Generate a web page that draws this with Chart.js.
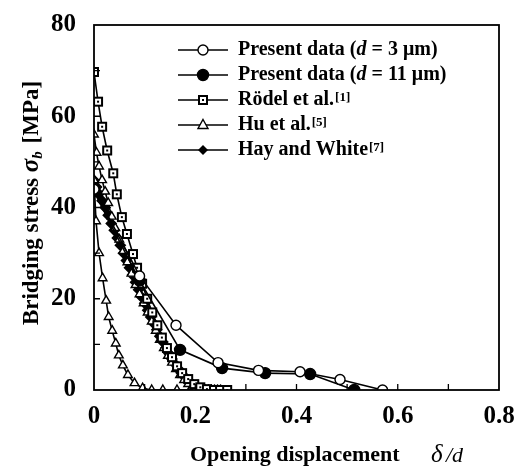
<!DOCTYPE html>
<html lang="en">
<head>
  <meta charset="UTF-8">
  <title>Bridging stress vs opening displacement</title>
  <style>
    body { margin: 0; padding: 0; background: #fff; }
    .wrap { width: 522px; height: 469px; }
  </style>
  <script src="https://cdn.jsdelivr.net/npm/chart.js"></script>
</head>
<body>
  <div class="wrap"><canvas id="c" width="522" height="469"></canvas></div>
  <script>
    // Present data, d = 3 um (open circles)
    const d3X = [0, 0.09, 0.162, 0.245, 0.325, 0.407, 0.486, 0.57];
    const d3Y = [44, 25, 14.2, 6, 4.3, 4, 2.3, 0];
    // Present data, d = 11 um (filled circles)
    const d11X = [0, 0.09, 0.17, 0.253, 0.338, 0.427, 0.514];
    const d11Y = [43.5, 24, 8.8, 4.8, 3.7, 3.5, 0];
    // Rodel et al. (squares)
    const rodelX = [0, 0.008, 0.016, 0.026, 0.038, 0.045, 0.055, 0.065, 0.077, 0.085, 0.095, 0.105,
      0.115, 0.125, 0.134, 0.144, 0.154, 0.164, 0.174, 0.186, 0.198, 0.21, 0.223, 0.237, 0.249, 0.263];
    const rodelY = [69.7, 63.2, 57.7, 52.5, 47.5, 42.9, 37.9, 34.2, 29.8, 26.8, 23.3, 20,
      17, 14.2, 11.5, 9.2, 7.2, 5.2, 3.7, 2.4, 1.3, 0.6, 0.2, 0, 0, 0];
    // Hu et al. (open triangles), two curves
    const huAX = [0, 0.005, 0.01, 0.016, 0.022, 0.028, 0.035, 0.042, 0.05, 0.058, 0.066, 0.074, 0.082,
      0.09, 0.098, 0.106, 0.114, 0.122, 0.13, 0.138, 0.146, 0.154, 0.162, 0.17, 0.178, 0.186, 0.194, 0.2];
    const huAY = [56, 52, 49, 46, 43.5, 41, 38, 35.5, 33, 30.5, 28, 25.5, 23,
      21, 19, 17, 15, 13, 11, 9.2, 7.5, 6, 4.6, 3.3, 2.2, 1.3, 0.6, 0];
    const huBX = [0, 0.004, 0.01, 0.017, 0.024, 0.029, 0.036, 0.043, 0.049, 0.057, 0.067, 0.08, 0.096,
      0.114, 0.136, 0.164, 0.19];
    const huBY = [46, 37, 30, 24.5, 19.6, 16, 13, 10.2, 7.6, 5.4, 3.3, 1.5, 0.4, 0, 0, 0, 0];
    // Hay and White (filled diamonds)
    const hayX = [0, 0.005, 0.01, 0.016, 0.022, 0.028, 0.034, 0.04, 0.046, 0.052, 0.058, 0.064, 0.07,
      0.076, 0.082, 0.088, 0.094, 0.1, 0.106, 0.112, 0.118, 0.124, 0.13, 0.136, 0.142, 0.148, 0.154,
      0.16, 0.166, 0.172, 0.178, 0.184, 0.19, 0.196, 0.202, 0.208, 0.214, 0.22, 0.226, 0.232, 0.238,
      0.244, 0.25];
    const hayY = [46, 44.5, 43, 41.5, 40, 38.3, 36.5, 35, 33.3, 31.7, 30, 28.4, 26.8,
      25.2, 23.6, 22, 20.4, 19, 17.5, 16, 14.6, 13.2, 11.8, 10.5, 9.2, 8, 6.8,
      5.7, 4.7, 3.8, 3, 2.3, 1.6, 1.1, 0.6, 0.3, 0.1, 0, 0, 0, 0,
      0, 0];

    const xMinorTicks = [0.1, 0.2, 0.3, 0.4, 0.5, 0.6, 0.7];
    const yMinorTicks = [10, 20, 30, 40, 50, 60, 70];

    const legendLabels = [
      'Present data (d = 3 \u03bcm)',
      'Present data (d = 11 \u03bcm)',
      'R\u00f6del et al.[1]',
      'Hu et al.[5]',
      'Hay and White[7]'
    ];

    const serif = '"Liberation Serif", "DejaVu Serif", serif';

    function pts(xs, ys) {
      return xs.map((x, i) => ({ x: x, y: ys[i] }));
    }

    // square with a dot in the middle
    function squareDot() {
      const c = document.createElement('canvas');
      c.width = 12; c.height = 12;
      const g = c.getContext('2d');
      g.fillStyle = '#fff';
      g.fillRect(1, 1, 10, 10);
      g.fillStyle = '#000';
      g.fillRect(1, 1, 10, 2);
      g.fillRect(1, 9, 10, 2);
      g.fillRect(1, 1, 2, 10);
      g.fillRect(9, 1, 2, 10);
      g.fillRect(5, 5, 2, 2);
      return c;
    }
    const sqImg = squareDot();

    const base = { showLine: true, borderColor: '#000', borderWidth: 1.6, pointBorderColor: '#000', pointBorderWidth: 1.4 };

    const datasets = [
      Object.assign({}, base, { data: pts(d3X, d3Y), pointStyle: 'circle', pointRadius: 5, pointBackgroundColor: '#fff' }),
      Object.assign({}, base, { data: pts(d11X, d11Y), pointStyle: 'circle', pointRadius: 5.5, pointBackgroundColor: '#000' }),
      Object.assign({}, base, { data: pts(rodelX, rodelY), pointStyle: sqImg }),
      Object.assign({}, base, { data: pts(huAX, huAY), pointStyle: 'triangle', pointRadius: 5, pointBackgroundColor: '#fff' }),
      Object.assign({}, base, { data: pts(huBX, huBY), pointStyle: 'triangle', pointRadius: 5, pointBackgroundColor: '#fff' }),
      Object.assign({}, base, { data: pts(hayX, hayY), pointStyle: 'rectRot', pointRadius: 5, pointBackgroundColor: '#000' })
    ];

    function marker(ctx, kind, x, y) {
      ctx.save();
      ctx.strokeStyle = '#000';
      ctx.lineWidth = 1.4;
      ctx.beginPath();
      if (kind === 0 || kind === 1) {
        ctx.arc(x, y, kind === 0 ? 5 : 5.5, 0, Math.PI * 2);
        ctx.fillStyle = kind === 0 ? '#fff' : '#000';
        ctx.fill(); ctx.stroke();
      } else if (kind === 2) {
        ctx.drawImage(sqImg, Math.round(x - 6), Math.round(y - 6));
      } else if (kind === 3) {
        ctx.moveTo(x, y - 5.5); ctx.lineTo(x + 5, y + 3.5); ctx.lineTo(x - 5, y + 3.5); ctx.closePath();
        ctx.fillStyle = '#fff'; ctx.fill(); ctx.stroke();
      } else {
        ctx.moveTo(x, y - 5); ctx.lineTo(x + 5, y); ctx.lineTo(x, y + 5); ctx.lineTo(x - 5, y); ctx.closePath();
        ctx.fillStyle = '#000'; ctx.fill();
      }
      ctx.restore();
    }

    const decor = {
      id: 'decor',
      afterDraw(chart) {
        const ctx = chart.ctx;
        const a = chart.chartArea;
        const xs = chart.scales.x, ys = chart.scales.y;
        ctx.save();
        // frame
        ctx.strokeStyle = '#000';
        ctx.lineWidth = 1.8;
        ctx.strokeRect(a.left, a.top, a.right - a.left, a.bottom - a.top);
        // inward minor ticks
        ctx.lineWidth = 1.3;
        ctx.beginPath();
        xMinorTicks.forEach(v => {
          const px = xs.getPixelForValue(v);
          ctx.moveTo(px, a.bottom); ctx.lineTo(px, a.bottom - 6);
        });
        yMinorTicks.forEach(v => {
          const py = ys.getPixelForValue(v);
          ctx.moveTo(a.left, py); ctx.lineTo(a.left + 6, py);
        });
        ctx.stroke();

        // legend
        const lf = '20px ' + serif;
        ctx.textBaseline = 'middle';
        ctx.fillStyle = '#000';
        legendLabels.forEach((t, i) => {
          const y = 50 + i * 25;
          ctx.beginPath();
          ctx.lineWidth = 1.6;
          ctx.moveTo(178, y); ctx.lineTo(228, y); ctx.stroke();
          marker(ctx, i, 203, y);
          ctx.font = 'bold ' + lf;
          let x = 238;
          const m = t.match(/^(.*?)(\[\d\])$/);
          if (m) {
            ctx.fillText(m[1], x, y);
            x += ctx.measureText(m[1]).width;
            ctx.font = 'bold 13px ' + serif;
            ctx.fillText(m[2], x + 1, y - 2);
          } else {
            const parts = t.split('d =');
            ctx.fillText(parts[0], x, y);
            x += ctx.measureText(parts[0]).width;
            ctx.font = 'italic bold ' + lf;
            ctx.fillText('d', x, y);
            x += ctx.measureText('d').width;
            ctx.font = 'bold ' + lf;
            ctx.fillText(' =' + parts[1], x, y);
          }
        });

        // x title
        ctx.font = 'bold 22px ' + serif;
        ctx.textAlign = 'left';
        ctx.fillText('Opening displacement', 190, 455);
        ctx.font = 'italic 25px ' + serif;
        ctx.fillText('\u03b4', 431, 455);
        ctx.font = 'italic 22px ' + serif;
        ctx.fillText('/d', 446, 456);

        // y title
        ctx.translate(32, 203);
        ctx.rotate(-Math.PI / 2);
        const p1 = 'Bridging stress ';
        const p3 = ' [MPa]';
        const tf = 'bold 23px ' + serif;
        ctx.font = tf;
        const w1 = ctx.measureText(p1).width;
        const w3 = ctx.measureText(p3).width;
        ctx.font = 'italic bold 25px ' + serif;
        const w2 = ctx.measureText('\u03c3').width;
        ctx.font = 'italic bold 15px ' + serif;
        const wb = ctx.measureText('b').width;
        let x0 = -(w1 + w2 + wb + w3 + 2) / 2;
        ctx.font = tf;
        ctx.fillText(p1, x0, 0); x0 += w1;
        ctx.font = 'italic bold 25px ' + serif;
        ctx.fillText('\u03c3', x0, 0); x0 += w2;
        ctx.font = 'italic bold 15px ' + serif;
        ctx.fillText('b', x0, 6); x0 += wb + 2;
        ctx.font = tf;
        ctx.fillText(p3, x0, 0);
        ctx.restore();
      }
    };

    new Chart(document.getElementById('c'), {
      type: 'scatter',
      data: { datasets: datasets },
      options: {
        responsive: false,
        animation: false,
        layout: { padding: { left: 0, right: 23, top: 23, bottom: 0 } },
        plugins: { legend: { display: false }, tooltip: { enabled: false } },
        scales: {
          x: {
            type: 'linear', min: 0, max: 0.8,
            grid: { display: false },
            border: { display: false },
            afterFit: s => { s.height = 79; },
            ticks: {
              stepSize: 0.2, color: '#000', padding: 4,
              font: { family: serif, size: 25, weight: 'bold' },
              callback: v => (v === 0 ? '0' : v.toFixed(1))
            }
          },
          y: {
            min: 0, max: 80,
            grid: { display: false },
            border: { display: false },
            afterFit: s => { s.width = 94; },
            ticks: {
              stepSize: 20, color: '#000', padding: 10,
              font: { family: serif, size: 25, weight: 'bold' }
            }
          }
        }
      },
      plugins: [decor]
    });
  </script>
</body>
</html>
